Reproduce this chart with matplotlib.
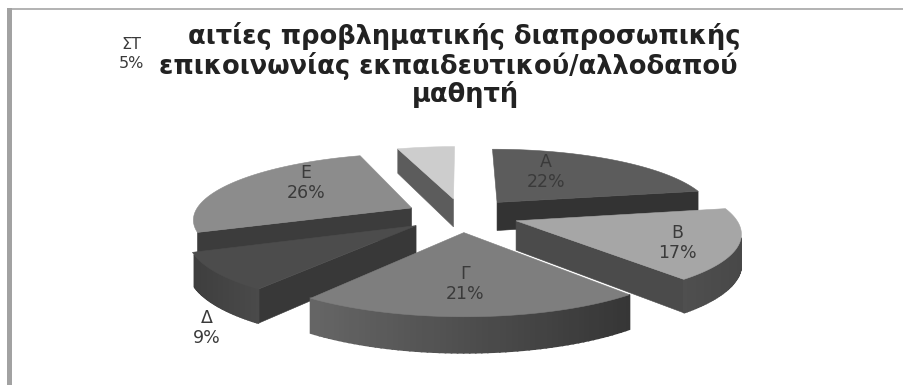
import numpy as np
import matplotlib
matplotlib.use("Agg")
from matplotlib import pyplot as plt
from matplotlib.colors import to_rgb
from matplotlib.patches import Polygon, Rectangle

labels = ["Α", "Β", "Γ", "Δ", "Ε", "ΣΤ"]
values = [22, 17, 21, 9, 26, 5]
title_lines = ["αιτίες προβληματικής διαπροσωπικής",
               "επικοινωνίας εκπαιδευτικού/αλλοδαπού",
               "μαθητή"]

# greys per slice: top face, radial walls, outer wall left/right end
top_colors = ["#5c5c5c", "#a6a6a6", "#7e7e7e", "#4c4c4c", "#8c8c8c", "#cdcdcd"]
wall_colors = ["#333333", "#4b4b4b", "#5a5a5a", "#383838", "#3c3c3c", "#5c5c5c"]
arc_left = ["#3a3a3a", "#4f4f4f", "#666666", "#3e3e3e", "#404040", "#5c5c5c"]
arc_right = ["#333333", "#484848", "#363636", "#4a4a4a", "#404040", "#5c5c5c"]

# back-to-front drawing order
draw_order = [5, 0, 4, 3, 1, 2]
label_pos = [(546, 172), (677, 243), (465, 284), (207, 328), (306, 183), (131, 54)]
title_pos = [(464, 36), (448, 66), (465, 94)]

# pie projection, in pixels
cx, cy = 462, 215
a, b = 218, 65
k = 0.155
explode = 0.26
depth = 29


def project(u, v, drop=0.0):
    w = 1 + k * v
    return cx + a * u / w, cy - b * v / w + drop / w


fig = plt.figure(figsize=(9.04, 3.85), dpi=100)
ax = fig.add_axes([0, 0, 1, 1])
ax.set_xlim(0, 904)
ax.set_ylim(385, 0)
ax.axis("off")

# page frame
ax.add_patch(Rectangle((7, 8), 897, 2, color="#b4b4b4", lw=0))
ax.add_patch(Rectangle((7, 8), 5, 377, color="#a2a2a2", lw=0))

fractions = np.array(values) / float(sum(values))
edges = np.concatenate([[0], np.cumsum(fractions)]) * 2 * np.pi


def wall(p, q, color, z, lw=0.4):
    x0, y0 = project(p[0], p[1])
    x1, y1 = project(q[0], q[1])
    x2, y2 = project(q[0], q[1], depth)
    x3, y3 = project(p[0], p[1], depth)
    ax.add_patch(Polygon([(x0, y0), (x1, y1), (x2, y2), (x3, y3)], closed=True,
                         facecolor=color, edgecolor=color, lw=lw, zorder=z))


for n, i in enumerate(draw_order):
    t0, t1 = edges[i], edges[i + 1]
    mid = (t0 + t1) / 2
    u0, v0 = explode * np.sin(mid), explode * np.cos(mid)
    t = np.linspace(t0, t1, 60)
    us = u0 + np.sin(t)
    vs = v0 + np.cos(t)
    z = 2 + n * 3

    # radial walls, only when they face the viewer
    if np.cos(t0 - np.pi / 2) < -0.1:
        wall((u0, v0), (us[0], vs[0]), wall_colors[i], z)
    if np.cos(t1 + np.pi / 2) < -0.1:
        wall((u0, v0), (us[-1], vs[-1]), wall_colors[i], z)

    # outer wall as thin strips, shaded from one end to the other
    c0 = np.array(to_rgb(arc_left[i]))
    c1 = np.array(to_rgb(arc_right[i]))
    xs = np.array([project(uu, vv)[0] for uu, vv in zip(us, vs)])
    span = max(xs.max() - xs.min(), 1)
    for j in range(len(t) - 1):
        tm = (t[j] + t[j + 1]) / 2
        limit = -0.25 if np.sin(tm) > 0 else -0.4
        if np.cos(tm) < limit:
            f = (xs[j] - xs.min()) / span
            wall((us[j], vs[j]), (us[j + 1], vs[j + 1]), tuple(c0 + (c1 - c0) * f), z + 1, lw=1.2)

    top = [project(u0, v0)] + [project(uu, vv) for uu, vv in zip(us, vs)]
    ax.add_patch(Polygon(top, closed=True, facecolor=top_colors[i],
                         edgecolor=top_colors[i], lw=0.4, zorder=z + 2))

for name, val, pos in zip(labels, values, label_pos):
    small = name == "ΣΤ"
    ax.text(pos[0], pos[1], "%s\n%d%%" % (name, val), ha="center", va="center",
            fontsize=11.5 if small else 12.5, color="#3a3a3a",
            linespacing=1.3 if small else 1.17, zorder=40)

for line, pos in zip(title_lines, title_pos):
    ax.text(pos[0], pos[1], line, ha="center", va="center", fontsize=18.5,
            fontweight="bold", color="#222222", zorder=40)

fig.savefig("out.png", dpi=100)
